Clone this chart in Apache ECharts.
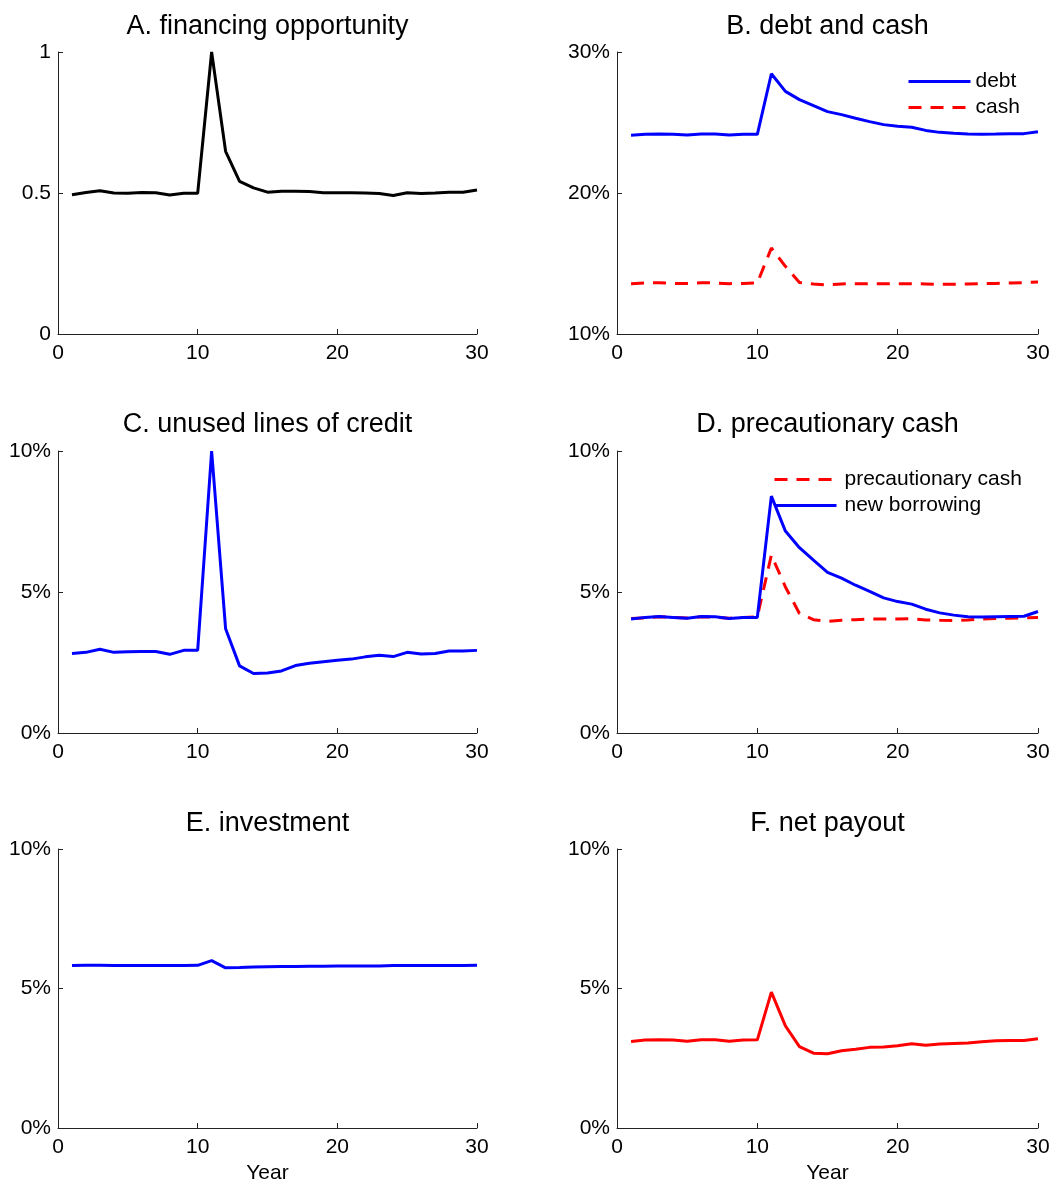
<!DOCTYPE html>
<html>
<head>
<meta charset="utf-8">
<script src="https://cdn.jsdelivr.net/npm/echarts@6/dist/echarts.min.js"></script>
<style>
  html, body { margin: 0; padding: 0; background: #fff; }
  #chart { width: 1058px; height: 1185px; }
</style>
</head>
<body>
<div id="chart"></div>
<script>
/* -----------------------------
   Six-panel response to a financing shock
   ----------------------------- */

const years = [1, 2, 3, 4, 5, 6, 7, 8, 9, 10, 11, 12, 13, 14, 15,
  16, 17, 18, 19, 20, 21, 22, 23, 24, 25, 26, 27, 28, 29, 30];

// A. financing opportunity (level)
const finOpp = [0.494, 0.502, 0.508, 0.500, 0.499, 0.502, 0.501, 0.493, 0.499, 0.499,
  1.000, 0.648, 0.541, 0.518, 0.503, 0.506, 0.506, 0.505, 0.501, 0.501,
  0.501, 0.500, 0.498, 0.491, 0.501, 0.498, 0.500, 0.503, 0.503, 0.511];

// B. debt and cash (%)
const debt = [24.09, 24.16, 24.18, 24.16, 24.11, 24.18, 24.18, 24.11, 24.16, 24.16,
  28.46, 27.21, 26.62, 26.19, 25.77, 25.56, 25.30, 25.06, 24.85, 24.73,
  24.66, 24.44, 24.30, 24.23, 24.18, 24.16, 24.18, 24.21, 24.21, 24.35];
const cash = [13.57, 13.62, 13.64, 13.59, 13.59, 13.64, 13.62, 13.57, 13.59, 13.62,
  16.10, 14.80, 13.66, 13.55, 13.48, 13.55, 13.57, 13.57, 13.57, 13.57,
  13.57, 13.55, 13.52, 13.52, 13.55, 13.57, 13.59, 13.62, 13.64, 13.69];

// C. unused lines of credit (%)
const credit = [2.82, 2.86, 2.97, 2.86, 2.88, 2.89, 2.89, 2.79, 2.93, 2.93,
  10.00, 3.70, 2.38, 2.11, 2.13, 2.20, 2.39, 2.47, 2.53, 2.58,
  2.62, 2.70, 2.76, 2.71, 2.86, 2.80, 2.82, 2.91, 2.91, 2.93];

// D. precautionary cash and new borrowing (%)
const precCash = [4.06, 4.08, 4.12, 4.10, 4.08, 4.12, 4.11, 4.07, 4.10, 4.12,
  6.31, 5.18, 4.24, 4.02, 3.96, 4.00, 4.02, 4.04, 4.04, 4.04,
  4.05, 4.01, 4.00, 3.99, 4.01, 4.04, 4.06, 4.07, 4.08, 4.10];
const newBorrow = [4.04, 4.10, 4.13, 4.10, 4.07, 4.13, 4.12, 4.06, 4.10, 4.10,
  8.40, 7.16, 6.57, 6.13, 5.70, 5.49, 5.24, 5.02, 4.79, 4.66,
  4.57, 4.39, 4.26, 4.18, 4.12, 4.11, 4.12, 4.13, 4.14, 4.31];

// E. investment (%)
const investment = [5.82, 5.83, 5.83, 5.82, 5.82, 5.82, 5.82, 5.82, 5.82, 5.83,
  6.00, 5.74, 5.75, 5.77, 5.78, 5.79, 5.79, 5.80, 5.80, 5.81,
  5.81, 5.81, 5.81, 5.82, 5.82, 5.82, 5.82, 5.82, 5.82, 5.83];

// F. net payout (%)
const payout = [3.10, 3.15, 3.16, 3.15, 3.11, 3.16, 3.16, 3.11, 3.15, 3.16,
  4.87, 3.66, 2.92, 2.68, 2.66, 2.77, 2.82, 2.89, 2.90, 2.95,
  3.02, 2.97, 3.01, 3.03, 3.05, 3.09, 3.13, 3.14, 3.14, 3.20];

const panelTitles = [
  "A. financing opportunity", "B. debt and cash",
  "C. unused lines of credit", "D. precautionary cash",
  "E. investment", "F. net payout"
];

const FONT = "'Liberation Sans', Arial, Helvetica, sans-serif";
const BLUE = "#0000ff";
const RED = "#ff0000";
const BLACK = "#000000";

// panel boxes (left, top, width, height)
const COLS = [{ left: 58, width: 419 }, { left: 617, width: 421 }];
const ROWS = [{ top: 52, height: 282 }, { top: 451, height: 282 }, { top: 849, height: 283 }];
const TITLE_TOPS = [13, 411, 810];

const pair = (arr) => years.map((y, i) => [y, arr[i]]);

const grids = [];
const titles = [];
const xAxes = [];
const yAxes = [];

const yRanges = [
  { min: 0, max: 1, interval: 0.5, fmt: (v) => String(v) },
  { min: 10, max: 30, interval: 10, fmt: (v) => v + "%" },
  { min: 0, max: 10, interval: 5, fmt: (v) => v + "%" },
  { min: 0, max: 10, interval: 5, fmt: (v) => v + "%" },
  { min: 0, max: 10, interval: 5, fmt: (v) => v + "%" },
  { min: 0, max: 10, interval: 5, fmt: (v) => v + "%" }
];

const axisLineStyle = { color: "#222", width: 1 };

for (let i = 0; i < 6; i++) {
  const col = COLS[i % 2];
  const row = ROWS[Math.floor(i / 2)];
  grids.push({ left: col.left, top: row.top, width: col.width, height: row.height });

  titles.push({
    text: panelTitles[i],
    left: col.left + col.width / 2,
    top: TITLE_TOPS[Math.floor(i / 2)],
    textAlign: "center",
    padding: 0,
    textStyle: { fontFamily: FONT, fontSize: 27, fontWeight: "normal", color: BLACK }
  });

  xAxes.push({
    gridIndex: i,
    type: "value",
    min: 0, max: 30, interval: 10,
    name: i >= 4 ? "Year" : "",
    nameLocation: "middle",
    nameGap: 35,
    nameTextStyle: { fontFamily: FONT, fontSize: 21, color: BLACK },
    axisLine: { show: true, onZero: false, lineStyle: axisLineStyle },
    axisTick: { show: true, inside: true, length: 5, lineStyle: axisLineStyle },
    axisLabel: { fontFamily: FONT, fontSize: 21, color: BLACK, margin: 9 },
    splitLine: { show: false }
  });

  const yr = yRanges[i];
  yAxes.push({
    gridIndex: i,
    type: "value",
    min: yr.min, max: yr.max, interval: yr.interval,
    axisLine: { show: true, onZero: false, lineStyle: axisLineStyle },
    axisTick: { show: true, inside: true, length: 5, lineStyle: axisLineStyle },
    axisLabel: {
      fontFamily: FONT, fontSize: 21, color: BLACK, margin: 7,
      padding: [3, 0, 0, 0], formatter: yr.fmt
    },
    splitLine: { show: false }
  });
}

const lineSeries = (name, data, idx, color, dashed) => ({
  name,
  type: "line",
  xAxisIndex: idx,
  yAxisIndex: idx,
  data: pair(data),
  symbol: "none",
  smooth: false,
  animation: false,
  lineStyle: { color, width: 3, type: dashed ? [13, 9] : "solid" },
  itemStyle: { color }
});

// legend look shared by panels B and D: line only, no marker
const legendBase = {
  orient: "vertical",
  padding: 0,
  itemWidth: 62,
  itemHeight: 14,
  itemGap: 5,
  itemStyle: { opacity: 0 },
  lineStyle: { width: 3 },
  textStyle: { fontFamily: FONT, fontSize: 21, color: BLACK, lineHeight: 21 }
};

const chart = echarts.init(document.getElementById("chart"));

chart.setOption({
  backgroundColor: "#fff",
  animation: false,
  title: titles,
  grid: grids,
  xAxis: xAxes,
  yAxis: yAxes,
  legend: [
    Object.assign({}, legendBase, {
      data: ["debt", "cash"],
      left: 907,
      top: 71
    }),
    Object.assign({}, legendBase, {
      data: ["precautionary cash", "new borrowing"],
      left: 773,
      top: 469,
      textStyle: Object.assign({}, legendBase.textStyle, { padding: [0, 0, 0, 3] })
    })
  ],
  series: [
    lineSeries("financing opportunity", finOpp, 0, BLACK, false),
    lineSeries("debt", debt, 1, BLUE, false),
    lineSeries("cash", cash, 1, RED, true),
    lineSeries("unused lines of credit", credit, 2, BLUE, false),
    lineSeries("precautionary cash", precCash, 3, RED, true),
    lineSeries("new borrowing", newBorrow, 3, BLUE, false),
    lineSeries("investment", investment, 4, BLUE, false),
    lineSeries("net payout", payout, 5, RED, false)
  ]
});
</script>
</body>
</html>
